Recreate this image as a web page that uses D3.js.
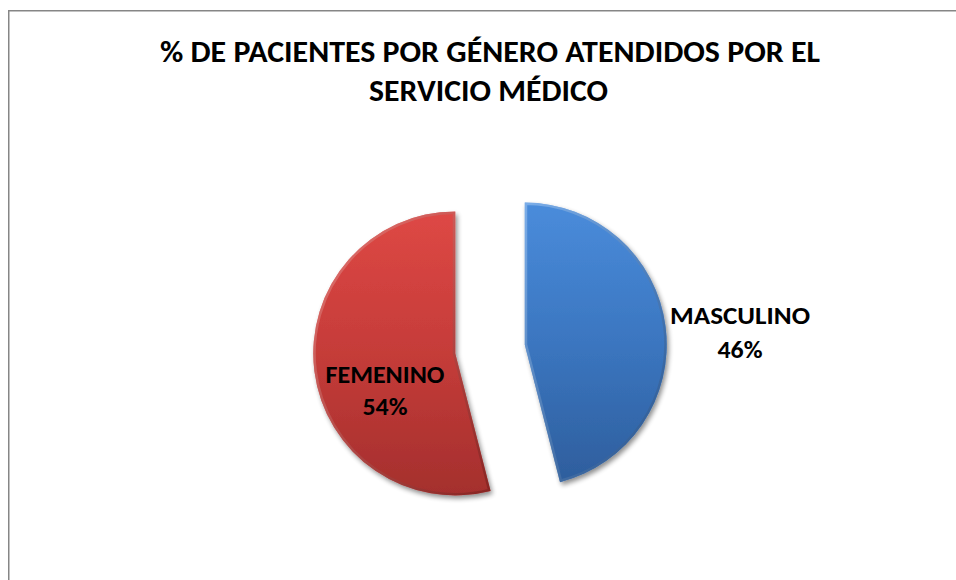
<!DOCTYPE html>
<html>
<head>
<meta charset="utf-8">
<script src="https://cdn.jsdelivr.net/npm/d3@7"></script>
<style>
  html, body { margin: 0; padding: 0; background: #fff; }
  svg { display: block; }
  text { font-family: Carlito, Calibri, "Open Sans", sans-serif; font-weight: bold; fill: #000; }
</style>
</head>
<body>
<div id="chart"></div>
<script>
// chart data
const categories = ["MASCULINO", "FEMENINO"];
const values = [46, 54];
const percentLabels = ["46%", "54%"];
const titleLines = ["% DE PACIENTES POR GÉNERO ATENDIDOS POR EL", "SERVICIO MÉDICO"];

const width = 956, height = 580;
const cx = 490, cy = 349, radius = 142, explode = 35;

const svg = d3.select("#chart").append("svg")
  .attr("width", width)
  .attr("height", height);

const defs = svg.append("defs");

// fill gradients, lighter at the top like the office bevel look
const colors = [
  {id: "gradBlue", stops: ["#4a8cdb", "#3b76c0", "#2e5e9d"], edge: ["#9cc4f2", "#1f4679"]},
  {id: "gradRed", stops: ["#de4845", "#c53c39", "#a42f2d"], edge: ["#f29490", "#741d1b"]}
];
colors.forEach(c => {
  const g = defs.append("linearGradient").attr("id", c.id)
    .attr("x1", 0).attr("y1", 0).attr("x2", 0).attr("y2", 1);
  c.stops.forEach((s, i) => g.append("stop").attr("offset", i / (c.stops.length - 1)).attr("stop-color", s));
  const e = defs.append("linearGradient").attr("id", c.id + "Edge")
    .attr("x1", 0).attr("y1", 0).attr("x2", 1).attr("y2", 1);
  e.append("stop").attr("offset", 0).attr("stop-color", c.edge[0]);
  e.append("stop").attr("offset", 1).attr("stop-color", c.edge[1]);
});

// soft drop shadow
const shadow = defs.append("filter").attr("id", "shadow")
  .attr("x", "-20%").attr("y", "-20%").attr("width", "140%").attr("height", "140%");
shadow.append("feGaussianBlur").attr("in", "SourceAlpha").attr("stdDeviation", 2.5);
shadow.append("feOffset").attr("dx", 2).attr("dy", 3).attr("result", "off");
shadow.append("feComponentTransfer").append("feFuncA").attr("type", "linear").attr("slope", 0.45);
const merge = shadow.append("feMerge");
merge.append("feMergeNode");
merge.append("feMergeNode").attr("in", "SourceGraphic");

// chart area border
svg.append("rect")
  .attr("x", 8.75).attr("y", 10.75)
  .attr("width", 1200).attr("height", 1200)
  .attr("fill", "none")
  .attr("stroke", "#868686")
  .attr("stroke-width", 1.5);

// title
svg.append("g").selectAll("text")
  .data(titleLines)
  .join("text")
  .attr("x", (d, i) => i === 0 ? 490 : 488.5)
  .attr("y", (d, i) => 62 + i * 39)
  .attr("text-anchor", "middle")
  .attr("font-size", 30)
  .attr("textLength", (d, i) => i === 0 ? 660 : 239)
  .attr("lengthAdjust", "spacingAndGlyphs")
  .text(d => d);

const pie = d3.pie().sort(null).value(d => d.value);
const arc = d3.arc().innerRadius(0).outerRadius(radius);
const data = pie(categories.map((c, i) => ({name: c, value: values[i], pct: percentLabels[i], idx: i})));

function offset(d) {
  const a = (d.startAngle + d.endAngle) / 2;
  return [Math.sin(a) * explode, -Math.cos(a) * explode];
}

const slices = svg.append("g")
  .attr("transform", `translate(${cx},${cy})`)
  .selectAll("g")
  .data(data)
  .join("g")
  .attr("transform", d => `translate(${offset(d)})`);

slices.each(function(d) {
  defs.append("clipPath").attr("id", "clip" + d.index).append("path").attr("d", arc(d));
});

slices.append("path")
  .attr("d", arc)
  .attr("fill", d => `url(#${colors[d.index].id})`)
  .attr("filter", "url(#shadow)");

// bevel edge
slices.append("path")
  .attr("d", arc)
  .attr("fill", "none")
  .attr("stroke", d => `url(#${colors[d.index].id}Edge)`)
  .attr("stroke-width", 5)
  .attr("stroke-opacity", 0.6)
  .attr("clip-path", d => `url(#clip${d.index})`);

// data labels: masculino outside, femenino inside
const labelPos = [[250, -25], [-105, 34]];
const labels = svg.append("g")
  .attr("transform", `translate(${cx},${cy})`)
  .selectAll("text")
  .data(data)
  .join("text")
  .attr("text-anchor", "middle")
  .attr("font-size", 25)
  .attr("x", d => labelPos[d.index][0])
  .attr("y", d => labelPos[d.index][1]);

labels.append("tspan")
  .attr("x", d => labelPos[d.index][0])
  .attr("textLength", d => d.index === 0 ? 140 : 119)
  .attr("lengthAdjust", "spacingAndGlyphs")
  .text(d => d.data.name);
labels.append("tspan")
  .attr("x", d => labelPos[d.index][0])
  .attr("dy", d => d.index === 0 ? 34 : 32)
  .attr("textLength", 45)
  .attr("lengthAdjust", "spacingAndGlyphs")
  .text(d => d.data.pct);
</script>
</body>
</html>
